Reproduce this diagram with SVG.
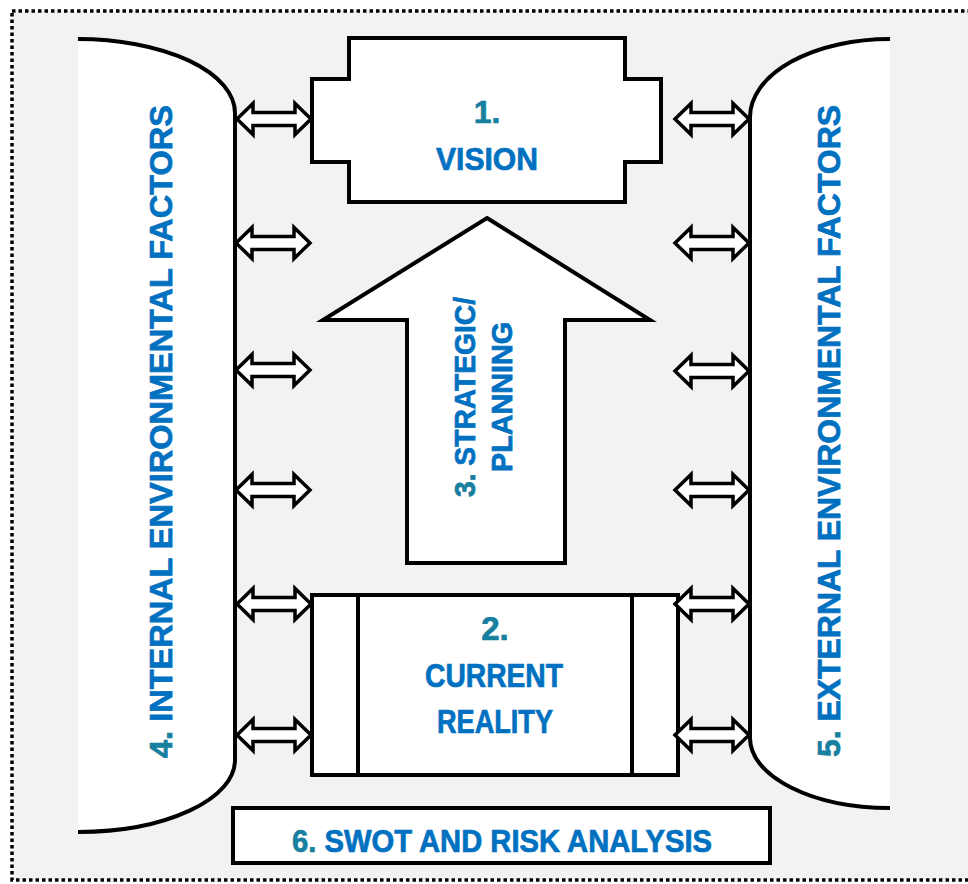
<svg xmlns="http://www.w3.org/2000/svg" width="968" height="884" viewBox="0 0 968 884">
  <style>
    .shape { fill: #ffffff; stroke: #000000; stroke-width: 4; stroke-linejoin: miter; }
    .side { fill: #ffffff; stroke: none; }
    .edge { fill: none; stroke: #000000; stroke-width: 4; }
    .dbl { fill: #ffffff; stroke: #000000; stroke-width: 3.5; stroke-linejoin: miter; }
    .lbl { font-family: "Liberation Sans", Arial, sans-serif; font-weight: bold; fill: #0070c0; stroke: #0070c0; stroke-width: 0.7; }
    .num { fill: #17809f; stroke: #17809f; }
  </style>
  <defs>
    <!-- two-headed block arrow, centred on the origin -->
    <path id="dbl" d="M-37,0 L-21,-15.5 L-21,-6.5 L21,-6.5 L21,-15.5 L37,0 L21,15.5 L21,6.5 L-21,6.5 L-21,15.5 Z"/>
  </defs>

  <!-- frame -->
  <rect x="0" y="0" width="968" height="884" fill="#ffffff"/>
  <rect x="12" y="11" width="970" height="869" fill="#f2f2f2" stroke="#000000" stroke-width="3.5" stroke-dasharray="3.5,3"/>

  <!-- 4. internal factors -->
  <g id="internal">
    <path class="side" d="M78,39 A157,74 0 0 1 235,113 L235,760 A157,72 0 0 1 78,832 Z"/>
    <path class="edge" d="M78,39 A157,74 0 0 1 235,113 L235,760 A157,72 0 0 1 78,832"/>
    <text class="lbl" font-size="31" text-anchor="middle" textLength="653" lengthAdjust="spacingAndGlyphs" transform="translate(172,431.5) rotate(-90)"><tspan class="num">4.</tspan> INTERNAL ENVIRONMENTAL FACTORS</text>
  </g>

  <!-- 5. external factors -->
  <g id="external">
    <path class="side" d="M890,39 A140,78 0 0 0 750,117 L750,738 A140,70 0 0 0 890,808 Z"/>
    <path class="edge" d="M890,39 A140,78 0 0 0 750,117 L750,738 A140,70 0 0 0 890,808"/>
    <text class="lbl" font-size="31" text-anchor="middle" textLength="652" lengthAdjust="spacingAndGlyphs" transform="translate(840,431) rotate(-90)"><tspan class="num">5.</tspan> EXTERNAL ENVIRONMENTAL FACTORS</text>
  </g>

  <!-- 1. vision -->
  <g id="vision">
    <path class="shape" d="M349,38 H625 V79 H661 V162 H625 V202 H349 V162 H312 V79 H349 Z"/>
    <text class="lbl num" x="487" y="123" font-size="32" text-anchor="middle">1.</text>
    <text class="lbl" x="487" y="170" font-size="32" text-anchor="middle" textLength="102" lengthAdjust="spacingAndGlyphs">VISION</text>
  </g>

  <!-- 3. strategic planning -->
  <g id="strategic">
    <path class="shape" d="M487,218 L650,320 L565,320 L565,563 L407,563 L407,320 L323,320 Z"/>
    <text class="lbl" font-size="30" text-anchor="middle" textLength="200" lengthAdjust="spacingAndGlyphs" transform="translate(475,397) rotate(-90)"><tspan class="num">3.</tspan> STRATEGIC/</text>
    <text class="lbl" font-size="30" text-anchor="middle" textLength="150" lengthAdjust="spacingAndGlyphs" transform="translate(512,397) rotate(-90)">PLANNING</text>
  </g>

  <!-- 2. current reality -->
  <g id="current">
    <rect class="shape" x="312" y="595" width="366" height="180"/>
    <line class="edge" x1="358" y1="595" x2="358" y2="775"/>
    <line class="edge" x1="632" y1="595" x2="632" y2="775"/>
    <text class="lbl num" x="495" y="640" font-size="33" text-anchor="middle">2.</text>
    <text class="lbl" x="494" y="687" font-size="33" text-anchor="middle" textLength="138" lengthAdjust="spacingAndGlyphs">CURRENT</text>
    <text class="lbl" x="495" y="733" font-size="33" text-anchor="middle" textLength="116" lengthAdjust="spacingAndGlyphs">REALITY</text>
  </g>

  <!-- 6. swot -->
  <g id="swot">
    <rect class="shape" x="233" y="808" width="537" height="55"/>
    <text class="lbl" x="502" y="852" font-size="31" text-anchor="middle" textLength="420" lengthAdjust="spacingAndGlyphs"><tspan class="num">6.</tspan> SWOT AND RISK ANALYSIS</text>
  </g>

  <!-- two-way links between the factor columns and the centre -->
  <g id="connectors">
    <use href="#dbl" class="dbl" x="274" y="119"/>
    <use href="#dbl" class="dbl" x="273" y="243"/>
    <use href="#dbl" class="dbl" x="273" y="370"/>
    <use href="#dbl" class="dbl" x="273" y="490"/>
    <use href="#dbl" class="dbl" x="274" y="604"/>
    <use href="#dbl" class="dbl" x="274" y="735"/>
    <use href="#dbl" class="dbl" x="712" y="119"/>
    <use href="#dbl" class="dbl" x="712" y="243"/>
    <use href="#dbl" class="dbl" x="712" y="371"/>
    <use href="#dbl" class="dbl" x="712" y="490"/>
    <use href="#dbl" class="dbl" x="712" y="604"/>
    <use href="#dbl" class="dbl" x="712" y="735"/>
  </g>
</svg>
